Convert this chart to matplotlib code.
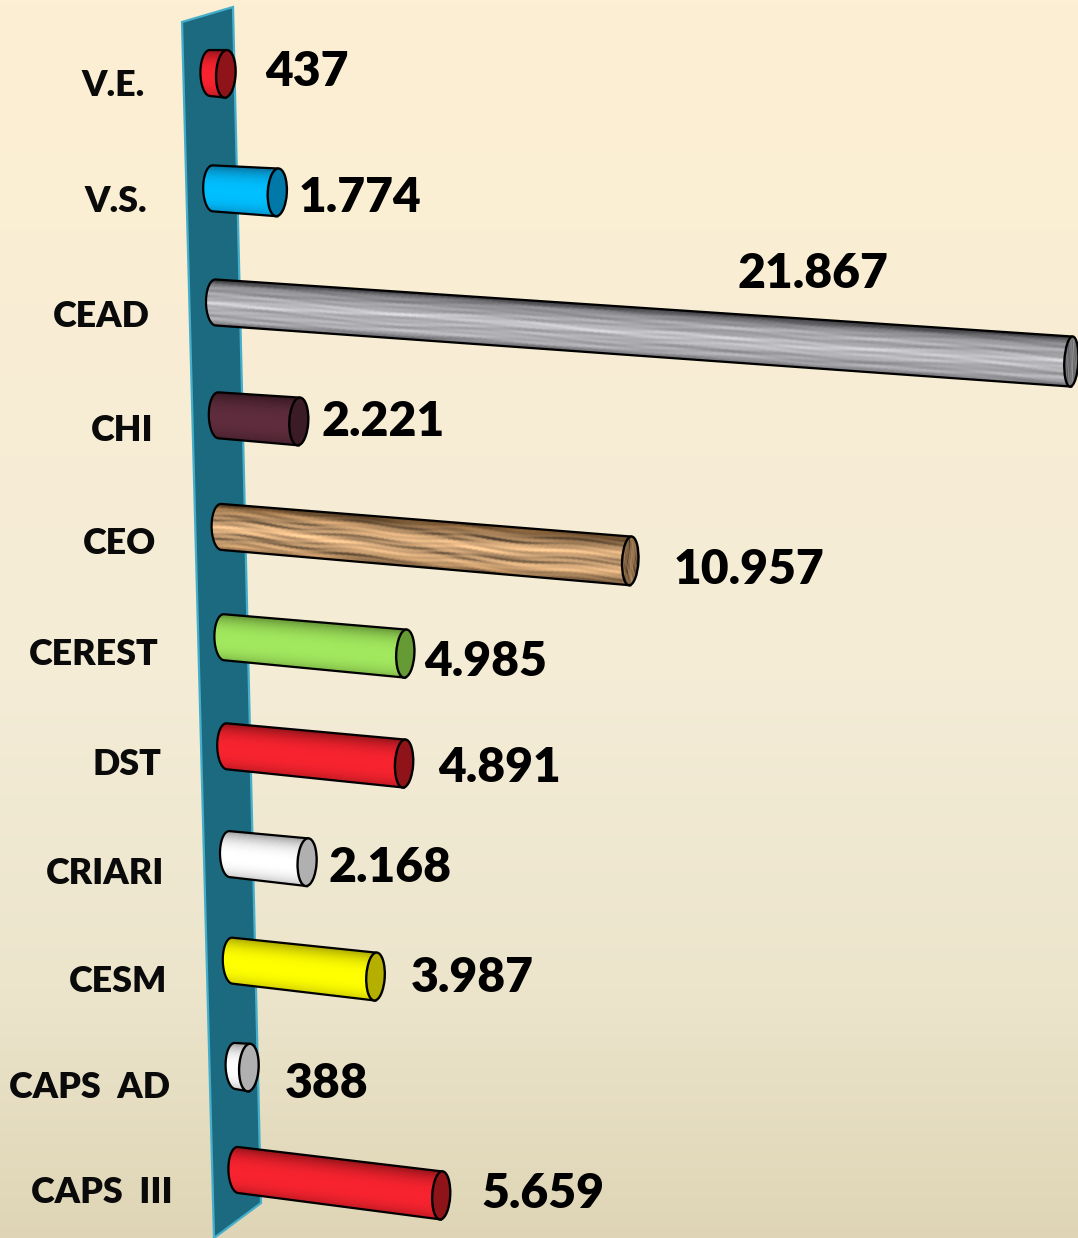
import matplotlib
matplotlib.use("Agg")
import matplotlib.pyplot as plt
import numpy as np
from matplotlib.patches import Ellipse, Polygon

# Daten
categories = ["V.E.", "V.S.", "CEAD", "CHI", "CEO", "CEREST", "DST", "CRIARI", "CESM", "CAPS  AD", "CAPS  III"]
values = [437, 1774, 21867, 2221, 10957, 4985, 4891, 2168, 3987, 388, 5659]

# Farben: Mitte, Rand, Deckel
body_colors = ["#F7232F", "#00BFFF", "#B8B8BC", "#5E2C3C", "#CFA578", "#A2E85E", "#F7232F", "#FFFFFF", "#FFFF00", "#FFFFFF", "#F7232F"]
edge_colors = ["#8C1218", "#0A6F9C", "#38383C", "#33161F", "#4F3418", "#628F34", "#8C1218", "#9A9A9A", "#A8A400", "#9A9A9A", "#8C1218"]
cap_colors = ["#8E1419", "#0079A8", "#77777A", "#3A1B26", "#8A6A48", "#659A34", "#8E1419", "#B0B0B0", "#B5B000", "#B0B0B0", "#8E1419"]
textures = [None, None, "stone", None, "wood", None, None, None, None, None, None]

# Position der Zahlen (linker Rand, Mitte)
value_x = [265.5, 298.5, 737.5, 321.5, 673.5, 424.5, 438.5, 328.5, 410.5, 284.5, 481.5]
value_y = [69, 196, 271, 420, 567, 660, 766, 866, 976, 1082, 1192]


# Perspektive: Zeile -> Startpunkt, Wert -> Laenge in Pixel
def row_y(r):
    return 73 + 116 * r - 0.63 * r ** 2


def row_x(r):
    return 210 + 2.8 * r


def bar_length(v, r):
    return (0.0362 * v + 1.45e-7 * v ** 2) * (1 - 0.003 * r)


def row_slope(r):
    return 0.055 + 0.007 * r


def streaks(tt, vv, kind):
    # Maserung aus Sinuswellen
    if kind == "stone":
        a = np.sin(9 * vv + 1.0 * np.sin(3 * tt) + 1.0)
        b = np.sin(17 * vv + 1.2 * np.sin(7 * tt + 2.0)) * np.sin(8 * tt + 0.7)
        c = np.sin(29 * vv + 1.2 * np.sin(11 * tt)) * np.sin(19 * tt + 1.9)
        return 0.30 * a + 0.40 * b + 0.30 * c
    a = np.sin(8 * (vv - 0.5 * tt) + 1.8 * np.sin(7 * tt + 0.5))
    b = np.sin(17 * (vv - 1.2 * tt) + 2.0 * np.sin(13 * tt + 1.5)) * np.sin(6 * tt + 0.4)
    c = np.sin(31 * vv + 2.0 * np.sin(23 * tt))
    n = 0.45 * a + 0.35 * b + 0.20 * c
    # dunkle Adern im Holz
    return n - 1.0 * np.clip(-n - 0.25, 0, None)


def hex_rgb(c):
    return np.array(matplotlib.colors.to_rgb(c))


def shade(vv, mid, edge):
    # heller Streifen etwas unter der Mitte, Raender dunkel
    k = np.clip(np.abs(vv - 0.12) / 1.12, 0, 1) ** 2.6
    return hex_rgb(mid) * (1 - k[..., None]) + hex_rgb(edge) * k[..., None]


fig = plt.figure(figsize=(10.78, 12.38), dpi=100)
ax = fig.add_axes([0, 0, 1, 1])
ax.set_xlim(0, 1078)
ax.set_ylim(1238, 0)
ax.axis("off")

# Hintergrund
stops = np.array([0, 0.55, 0.8, 1.0])
bg_colors = np.array([hex_rgb(c) for c in ["#FDEFD3", "#F4ECD6", "#ECE5CC", "#DFD5B6"]])
pos = np.linspace(0, 1, 400)
bg = np.stack([np.interp(pos, stops, bg_colors[:, i]) for i in range(3)], axis=1)[:, None, :]
ax.imshow(bg, extent=(0, 1078, 1238, 0), aspect="auto", zorder=0)

# Wand
ax.add_patch(Polygon([(182, 22), (233, 7), (261, 1203), (214, 1238)], closed=True,
                     facecolor="#1C6A80", edgecolor="#45AFCB", linewidth=1.6, zorder=1))

for r, v in enumerate(values):
    x0 = row_x(r)
    y0 = row_y(r)
    L = bar_length(v, r)
    s = row_slope(r)
    w = 9.6
    w1 = max(9.8 - 0.004 * L, 7)
    r0 = 23
    r1 = 23.8 + 0.0015 * L
    x1 = x0 + L
    y1 = y0 + s * L

    # Koerper
    tt, vv = np.meshgrid(np.linspace(0, 1, 500), np.linspace(-1, 1, 90))
    left = x0 - w * np.sqrt(1 - vv ** 2)
    X = left + tt * (x1 - left)
    Y = y0 + s * (X - x0) + vv * (r0 + (r1 - r0) * tt)
    tc = 0.5 * (tt[:-1, :-1] + tt[1:, 1:]) * max(L, 60) / 400
    vc = 0.5 * (vv[:-1, :-1] + vv[1:, 1:])
    rgb = shade(vc, body_colors[r], edge_colors[r])
    if textures[r] is not None:
        n = streaks(tc, vc, textures[r])
        amount = 0.22 if textures[r] == "stone" else 0.32
        rgb = rgb * (1 + amount * n[..., None])
    ax.pcolormesh(X, Y, np.clip(rgb, 0, 1), shading="flat", antialiased=False, zorder=3)

    # Umriss
    a = np.linspace(np.pi / 2, 3 * np.pi / 2, 40)
    arc_x = x0 + w * np.cos(a)
    arc_y = y0 + s * (arc_x - x0) - r0 * np.sin(a)
    ax.plot(np.r_[x1, arc_x, x1], np.r_[y1 - r1, arc_y, y1 + r1],
            color="#000000", linewidth=1.6, zorder=4, solid_joinstyle="round")

    # Deckel
    cap = Ellipse((x1, y1), 2 * w1, 2 * r1, angle=3, facecolor=cap_colors[r],
                  edgecolor="none", zorder=5)
    ax.add_patch(cap)
    if textures[r] is not None:
        cx, cy = np.meshgrid(np.linspace(-1, 1, 40), np.linspace(-1, 1, 60))
        n = streaks(cy[:-1, :-1] * 0.3, cx[:-1, :-1] * 0.7, textures[r])
        crgb = np.clip(hex_rgb(cap_colors[r]) * (1 + 0.3 * n[..., None]), 0, 1)
        m = ax.pcolormesh(x1 + cx * w1, y1 + cy * r1, crgb, shading="flat", antialiased=False, zorder=5)
        m.set_clip_path(cap)
    ax.add_patch(Ellipse((x1, y1), 2 * w1, 2 * r1, angle=3, facecolor="none",
                         edgecolor="#000000", linewidth=1.7, zorder=6))

    # Beschriftung
    ax.text(144.5 + 2.85 * r, y0 + 12.5 + r, categories[r], family="Lato", fontweight="heavy",
            fontsize=25.8, ha="right", va="center", color="#0A0A0A", zorder=7)
    ax.text(value_x[r], value_y[r] + 2.5, f"{v:,}".replace(",", "."), family="Lato", fontweight="heavy",
            fontsize=34.6, ha="left", va="center", color="#000000", zorder=7)

plt.savefig("out.png", dpi=100)
